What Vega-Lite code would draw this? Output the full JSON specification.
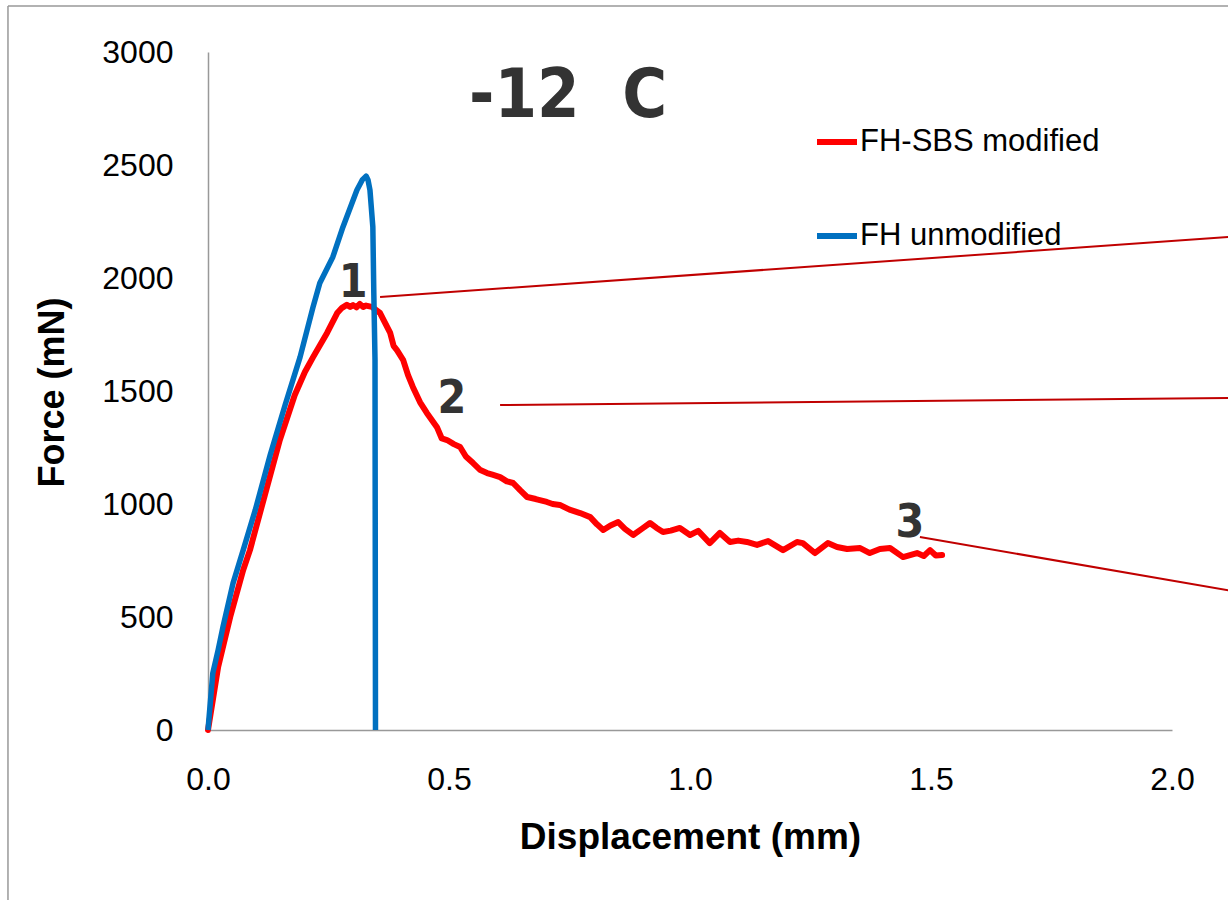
{
  "$schema": "https://vega.github.io/schema/vega-lite/v6.json",
  "autosize": {"type": "none"},
  "padding": {"left": 208, "top": 52, "right": 56, "bottom": 170},
  "width": 964,
  "height": 678,
  "background": "white",
  "config": {
    "view": {"stroke": null},
    "font": "Liberation Sans",
    "axis": {"grid": false, "ticks": false, "labelFlush": false, "labelOverlap": false, "domainColor": "#999999", "domainWidth": 1.5, "labelFont": "Liberation Sans", "labelFontSize": 32, "labelColor": "#000000", "titleFont": "Liberation Sans", "titleFontSize": 36, "titleFontWeight": "bold", "titleColor": "#000000"}
  },
  "datasets": {
    "frame": [
      {"x": -0.415, "y": -752, "x2": -0.415, "y2": 3204},
      {"x": -0.415, "y": 3204, "x2": 2.2, "y2": 3204}
    ],
    "annot": [
      {"id": "1", "x": 0.357, "y": 1916}, {"id": "1", "x": 2.13, "y": 2183},
      {"id": "2", "x": 0.606, "y": 1438}, {"id": "2", "x": 2.13, "y": 1469},
      {"id": "3", "x": 1.477, "y": 854}, {"id": "3", "x": 2.13, "y": 613}
    ],
    "red": [
      {"x": 0, "y": 0}, {"x": 0.021, "y": 279}, {"x": 0.046, "y": 500}, {"x": 0.073, "y": 708}, {"x": 0.087, "y": 796},
      {"x": 0.118, "y": 1040}, {"x": 0.149, "y": 1283}, {"x": 0.18, "y": 1482}, {"x": 0.201, "y": 1584}, {"x": 0.218, "y": 1650},
      {"x": 0.247, "y": 1757}, {"x": 0.268, "y": 1845}, {"x": 0.278, "y": 1868}, {"x": 0.288, "y": 1881}, {"x": 0.295, "y": 1872}, {"x": 0.301, "y": 1880}, {"x": 0.308, "y": 1870},
      {"x": 0.315, "y": 1885}, {"x": 0.322, "y": 1872}, {"x": 0.328, "y": 1878}, {"x": 0.34, "y": 1872}, {"x": 0.357, "y": 1845}, {"x": 0.37, "y": 1790}, {"x": 0.378, "y": 1757}, {"x": 0.385, "y": 1700}, {"x": 0.392, "y": 1681},
      {"x": 0.405, "y": 1637}, {"x": 0.415, "y": 1570}, {"x": 0.425, "y": 1518}, {"x": 0.44, "y": 1450}, {"x": 0.454, "y": 1403}, {"x": 0.475, "y": 1340}, {"x": 0.485, "y": 1290}, {"x": 0.496, "y": 1283}, {"x": 0.51, "y": 1265}, {"x": 0.523, "y": 1252}, {"x": 0.535, "y": 1210},
      {"x": 0.55, "y": 1181}, {"x": 0.565, "y": 1150}, {"x": 0.579, "y": 1137}, {"x": 0.59, "y": 1130}, {"x": 0.606, "y": 1119}, {"x": 0.62, "y": 1100}, {"x": 0.633, "y": 1093}, {"x": 0.648, "y": 1060}, {"x": 0.662, "y": 1031},
      {"x": 0.68, "y": 1022}, {"x": 0.703, "y": 1009}, {"x": 0.715, "y": 1000}, {"x": 0.73, "y": 996}, {"x": 0.75, "y": 975}, {"x": 0.772, "y": 960}, {"x": 0.793, "y": 942}, {"x": 0.807, "y": 910}, {"x": 0.82, "y": 885},
      {"x": 0.835, "y": 905}, {"x": 0.851, "y": 920}, {"x": 0.865, "y": 890}, {"x": 0.882, "y": 863}, {"x": 0.9, "y": 890}, {"x": 0.917, "y": 916}, {"x": 0.93, "y": 895}, {"x": 0.944, "y": 876}, {"x": 0.96, "y": 882}, {"x": 0.979, "y": 894},
      {"x": 1.0, "y": 863}, {"x": 1.017, "y": 881}, {"x": 1.041, "y": 827}, {"x": 1.062, "y": 872}, {"x": 1.083, "y": 832},
      {"x": 1.1, "y": 838}, {"x": 1.118, "y": 832}, {"x": 1.139, "y": 819}, {"x": 1.162, "y": 836}, {"x": 1.193, "y": 796}, {"x": 1.222, "y": 832},
      {"x": 1.234, "y": 827}, {"x": 1.259, "y": 783}, {"x": 1.286, "y": 827}, {"x": 1.305, "y": 810}, {"x": 1.326, "y": 801}, {"x": 1.353, "y": 805},
      {"x": 1.373, "y": 783}, {"x": 1.394, "y": 801}, {"x": 1.415, "y": 805}, {"x": 1.442, "y": 765}, {"x": 1.471, "y": 783},
      {"x": 1.485, "y": 770}, {"x": 1.498, "y": 796}, {"x": 1.51, "y": 772}, {"x": 1.523, "y": 774}
    ],
    "blue": [
      {"x": 0, "y": 0}, {"x": 0.01, "y": 252}, {"x": 0.021, "y": 354}, {"x": 0.031, "y": 456}, {"x": 0.052, "y": 650},
      {"x": 0.073, "y": 796}, {"x": 0.098, "y": 973}, {"x": 0.129, "y": 1217}, {"x": 0.16, "y": 1438}, {"x": 0.191, "y": 1650},
      {"x": 0.218, "y": 1872}, {"x": 0.232, "y": 1978}, {"x": 0.259, "y": 2093}, {"x": 0.28, "y": 2226}, {"x": 0.309, "y": 2389},
      {"x": 0.32, "y": 2434}, {"x": 0.328, "y": 2451}, {"x": 0.332, "y": 2434}, {"x": 0.336, "y": 2389}, {"x": 0.342, "y": 2226},
      {"x": 0.344, "y": 1934}, {"x": 0.3465, "y": 1637}, {"x": 0.3475, "y": 0}
    ],
    "labels": [
      {"t": "1", "x": 0.301, "y": 1916},
      {"t": "2", "x": 0.506, "y": 1403},
      {"t": "3", "x": 1.456, "y": 854}
    ],
    "title": [{"t": "-12\u00a0\u00a0C", "x": 0.747, "y": 2712}]
  },
  "layer": [
    {
      "data": {"name": "frame"},
      "mark": {"type": "rule", "color": "#999999", "strokeWidth": 1.5, "clip": false},
      "encoding": {
        "x": {"field": "x", "type": "quantitative", "scale": {"domain": [0, 2]}},
        "x2": {"field": "x2"},
        "y": {"field": "y", "type": "quantitative", "scale": {"domain": [0, 3000]}},
        "y2": {"field": "y2"}
      }
    },
    {
      "data": {"name": "red"},
      "transform": [{"calculate": "'FH-SBS modified'", "as": "series"}],
      "mark": {"type": "line", "strokeWidth": 6, "strokeJoin": "round", "strokeCap": "round"},
      "encoding": {
        "x": {"field": "x", "type": "quantitative", "scale": {"domain": [0, 2], "nice": false},
          "axis": {"title": "Displacement (mm)", "values": [0, 0.5, 1, 1.5, 2], "format": ".1f", "labelPadding": 34, "titleBaseline": "alphabetic", "titleY": 118, "titleFontSize": 37}},
        "y": {"field": "y", "type": "quantitative", "scale": {"domain": [0, 3000], "nice": false},
          "axis": {"title": "Force (mN)", "values": [0, 500, 1000, 1500, 2000, 2500, 3000], "format": "d", "labelPadding": 35, "titleBaseline": "alphabetic", "titleX": -145, "titleY": 340}},
        "color": {"field": "series", "type": "nominal",
          "scale": {"domain": ["FH-SBS modified", "FH unmodified"], "range": ["#FF0000", "#0070C0"]},
          "legend": {"title": null, "orient": "none", "legendX": 606, "legendY": 67, "symbolType": "stroke", "symbolSize": 1600, "symbolStrokeWidth": 6, "labelFontSize": 31, "labelFont": "Liberation Sans", "labelColor": "#000000", "labelOffset": 0, "rowPadding": 56, "padding": 0, "labelLimit": 400}}
      }
    },
    {
      "data": {"name": "blue"},
      "transform": [{"calculate": "'FH unmodified'", "as": "series"}],
      "mark": {"type": "line", "strokeWidth": 5.5, "strokeJoin": "round"},
      "encoding": {
        "x": {"field": "x", "type": "quantitative"},
        "y": {"field": "y", "type": "quantitative"},
        "color": {"field": "series", "type": "nominal"}
      }
    },
    {
      "data": {"name": "annot"},
      "mark": {"type": "line", "color": "#C00000", "strokeWidth": 2, "clip": false},
      "encoding": {
        "x": {"field": "x", "type": "quantitative"},
        "y": {"field": "y", "type": "quantitative"},
        "detail": {"field": "id", "type": "nominal"}
      }
    },
    {
      "data": {"name": "labels"},
      "mark": {"type": "text", "font": "DejaVu Sans Condensed, sans-serif", "fontWeight": "bold", "fontSize": 46, "color": "#333333", "align": "center", "baseline": "alphabetic"},
      "encoding": {
        "x": {"field": "x", "type": "quantitative"},
        "y": {"field": "y", "type": "quantitative"},
        "text": {"field": "t"}
      }
    },
    {
      "data": {"name": "title"},
      "mark": {"type": "text", "font": "DejaVu Sans Condensed, sans-serif", "fontWeight": "bold", "fontSize": 68, "color": "#333333", "align": "center", "baseline": "alphabetic"},
      "encoding": {
        "x": {"field": "x", "type": "quantitative"},
        "y": {"field": "y", "type": "quantitative"},
        "text": {"field": "t"}
      }
    }
  ]
}
